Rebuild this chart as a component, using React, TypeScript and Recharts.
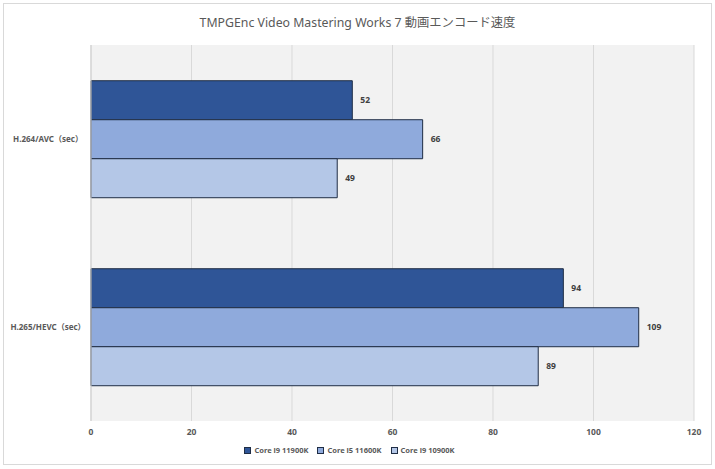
import React from 'react';
import { BarChart, Bar, XAxis, YAxis, CartesianGrid, Legend, LabelList } from 'recharts';

const categories = ['H.264/AVC（sec）', 'H.265/HEVC（sec）'];
const core11900K = [52, 94];
const core11600K = [66, 109];
const core10900K = [49, 89];
const xTicks = [0, 20, 40, 60, 80, 100, 120];

const seriesNames = ['Core i9 11900K', 'Core i5 11600K', 'Core i9 10900K'];
const colors = ['#2f5597', '#8faadc', '#b4c7e7'];

const data = categories.map((name, i) => ({
    name,
    a: core11900K[i],
    b: core11600K[i],
    c: core10900K[i],
}));

const FONT = '"Noto Sans", "Noto Sans CJK JP", sans-serif';

const CategoryTick = ({ x, y, payload }: any) => (
    <text x={x - 35} y={y} dy={3} textAnchor="middle" fontSize={8} fontWeight={700} fill="#595959" fontFamily={FONT}>
        {payload.value}
    </text>
);

const LegendContent = () => (
    <div style={{ display: 'flex', justifyContent: 'center', gap: 9, fontFamily: FONT, fontSize: 7.5, color: '#595959', fontWeight: 700, marginTop: 2 }}>
        {seriesNames.map((n, i) => (
            <span key={n} style={{ display: 'flex', alignItems: 'center' }}>
                <span style={{ width: 5, height: 5, background: colors[i], border: '1px solid #1f2d45', marginRight: 3 }} />
                {n}
            </span>
        ))}
    </div>
);

const App = () => {
    return (
        <div style={{ position: 'absolute', left: 0, top: 0, width: 715, height: 469, background: '#fff' }}>
            <div style={{ position: 'absolute', left: 3, top: 3, width: 707, height: 460, border: '1px solid #d9d9d9' }} />
            <div style={{ position: 'absolute', left: 0, top: 13, width: 715, textAlign: 'center', fontFamily: FONT, fontSize: 12.3, color: '#595959' }}>
                TMPGEnc Video Mastering Works 7 動画エンコード速度
            </div>
            <div style={{ position: 'absolute', left: 0, top: 0 }}>
                <BarChart
                    layout="vertical"
                    width={715} height={469}
                    data={data}
                    margin={{ top: 45, right: 21, left: 5, bottom: 6 }}
                    barCategoryGap="19%"
                    barGap={0}
                >
                    <CartesianGrid horizontal={false} stroke="#d9d9d9" fill="#f2f2f2" />
                    <XAxis
                        type="number" domain={[0, 120]} ticks={xTicks}
                        axisLine={false} tickLine={false} height={22}
                        tick={{ fontSize: 8.5, fontWeight: 700, fill: '#595959', fontFamily: FONT }}
                    />
                    <YAxis
                        type="category" dataKey="name" width={86}
                        axisLine={{ stroke: '#cfcfcf' }} tickLine={false}
                        tick={<CategoryTick />}
                    />
                    <Legend verticalAlign="bottom" height={20} content={<LegendContent />} />
                    {['a', 'b', 'c'].map((k, i) => (
                        <Bar key={k} dataKey={k} name={seriesNames[i]} fill={colors[i]} stroke="#1f2d45" strokeWidth={1} isAnimationActive={false}>
                            <LabelList dataKey={k} position="right" offset={8} fontSize={8.5} fontWeight={700} fill="#404040" fontFamily={FONT} />
                        </Bar>
                    ))}
                </BarChart>
            </div>
        </div>
    );
};

export default App;
